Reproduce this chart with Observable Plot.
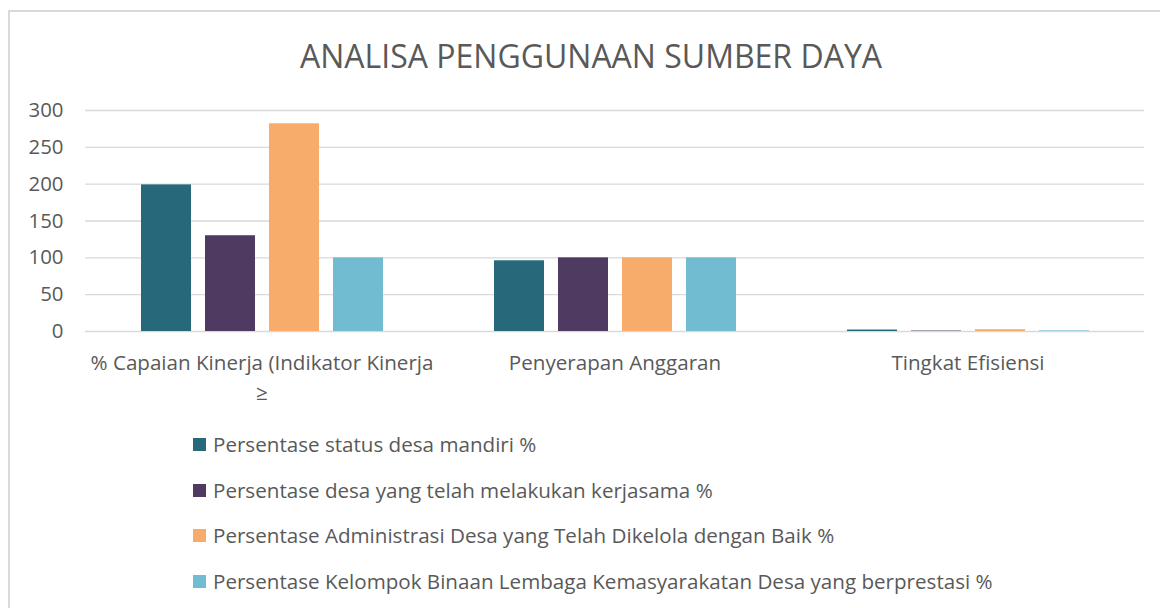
<!DOCTYPE html>
<html>
<head>
<meta charset="utf-8">
<script src="https://cdn.jsdelivr.net/npm/d3@7"></script>
<script src="https://cdn.jsdelivr.net/npm/@observablehq/plot@0.6"></script>
<style>
  html, body { margin: 0; padding: 0; background: #fff; }
  #wrap { position: relative; width: 1160px; height: 608px; overflow: hidden; font-family: "Open Sans", sans-serif; color: #595959; }
  #border { position: absolute; left: 8px; top: 10px; width: 1170px; height: 620px; border: 2px solid #d9d9d9; box-sizing: border-box; }
  #title { position: absolute; left: 0; width: 1182px; top: 36px; text-align: center; font-size: 32px; line-height: 40px; color: #595959; }
  #chart { position: absolute; left: 0; top: 0; }
  #legend { position: absolute; left: 193px; top: 430px; }
  .row { height: 45.5px; display: flex; align-items: flex-start; font-size: 20.6px; line-height: 28px; }
  .sw { width: 13px; height: 13px; margin-top: 8px; margin-right: 7px; flex: none; }
</style>
</head>
<body>
<div id="wrap">
  <div id="border"></div>
  <div id="chart"></div>
  <div id="title"></div>
  <div id="legend"></div>
</div>
<script>
const titleText = "ANALISA PENGGUNAAN SUMBER DAYA";
const categories = ["% Capaian Kinerja (Indikator Kinerja ≥", "Penyerapan Anggaran", "Tingkat Efisiensi"];
const seriesNames = [
  "Persentase status desa mandiri %",
  "Persentase desa yang telah melakukan kerjasama %",
  "Persentase Administrasi Desa yang Telah Dikelola dengan Baik %",
  "Persentase Kelompok Binaan Lembaga Kemasyarakatan Desa yang berprestasi %"
];
const seriesColors = ["#27697a", "#4f3b61", "#f8ac6b", "#72bcd1"];
// values per series, in category order
const statusDesaMandiri = [199, 96, 2];
const desaKerjasama = [130, 100, 0.6];
const administrasiDesa = [282, 100, 2.5];
const kelompokBinaan = [100, 100, 0.8];
const yTicks = [0, 50, 100, 150, 200, 250, 300];

const seriesValues = [statusDesaMandiri, desaKerjasama, administrasiDesa, kelompokBinaan];
const data = [];
categories.forEach((c, ci) => {
  seriesNames.forEach((s, si) => {
    data.push({category: c, series: s, value: seriesValues[si][ci]});
  });
});

document.getElementById("title").textContent = titleText;

const chart = Plot.plot({
  width: 1160,
  height: 410,
  marginTop: 110,
  marginLeft: 85,
  marginRight: 16,
  marginBottom: 79,
  style: {fontFamily: "'Open Sans', sans-serif", color: "#595959", background: "transparent"},
  fx: {domain: categories, paddingInner: 0, paddingOuter: 0, label: null},
  x: {domain: seriesNames, paddingInner: 0.225, paddingOuter: 0.846, axis: null},
  y: {domain: [0, 300], label: null},
  color: {domain: seriesNames, range: seriesColors},
  marks: [
    Plot.gridY(yTicks, {stroke: "#d9d9d9", strokeOpacity: 1, strokeWidth: 1.4}),
    Plot.axisY(yTicks, {tickSize: 0, tickPadding: 22, fontSize: 20.4, fill: "#595959", label: null}),
    Plot.axisFx({anchor: "bottom", tickSize: 0, tickPadding: 18, fontSize: 20.6, fill: "#595959",
      tickFormat: d => d.replace(" ≥", "\n≥"), lineHeight: 1.42, label: null}),
    Plot.barY(data, {fx: "category", x: "series", y: "value", fill: "series"})
  ]
});
document.getElementById("chart").appendChild(chart);

const legend = document.getElementById("legend");
seriesNames.forEach((s, i) => {
  const row = document.createElement("div");
  row.className = "row";
  const sw = document.createElement("div");
  sw.className = "sw";
  sw.style.background = seriesColors[i];
  const t = document.createElement("span");
  t.textContent = s;
  row.appendChild(sw);
  row.appendChild(t);
  legend.appendChild(row);
});
</script>
</body>
</html>
